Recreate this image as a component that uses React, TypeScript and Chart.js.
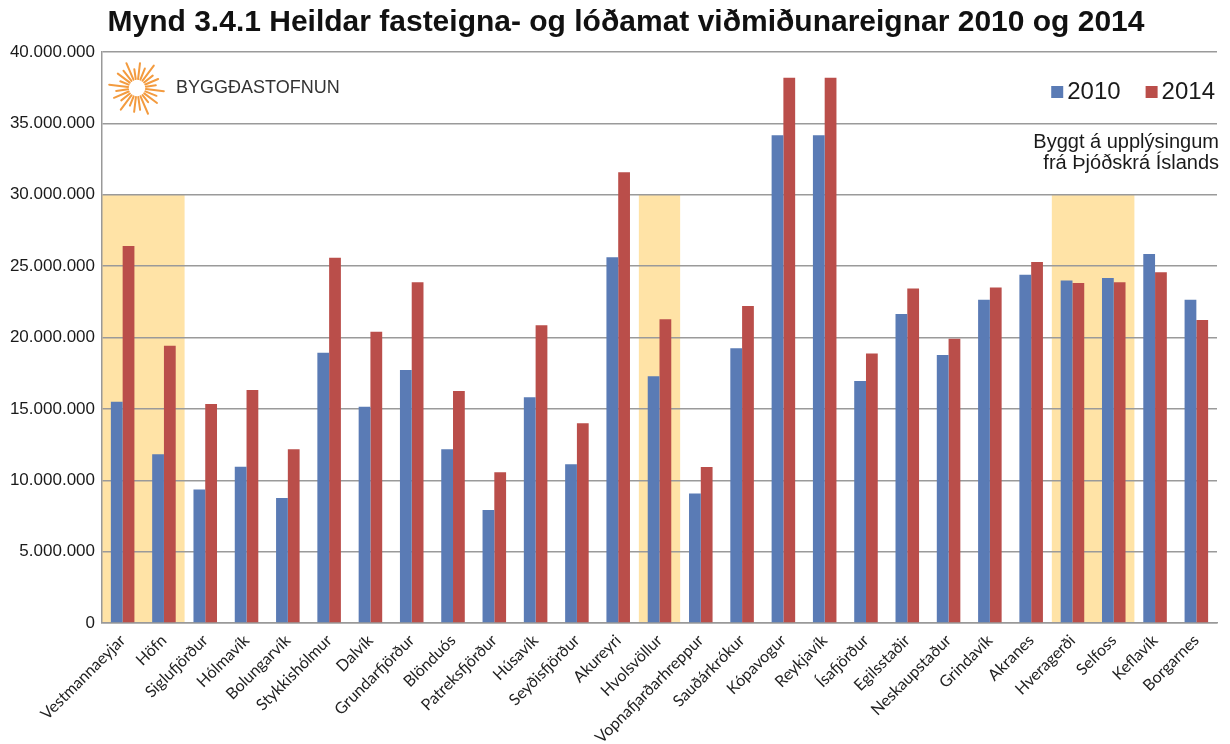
import React, { useEffect, useRef } from "react";
import { Chart, registerables } from "chart.js";

Chart.register(...registerables);

const categories = [
  "Vestmannaeyjar", "Höfn", "Siglufjörður", "Hólmavík", "Bolungarvík",
  "Stykkishólmur", "Dalvík", "Grundarfjörður", "Blönduós", "Patreksfjörður",
  "Húsavík", "Seyðisfjörður", "Akureyri", "Hvolsvöllur", "Vopnafjarðarhreppur",
  "Sauðárkrókur", "Kópavogur", "Reykjavík", "Ísafjörður", "Egilsstaðir",
  "Neskaupstaður", "Grindavík", "Akranes", "Hveragerði", "Selfoss",
  "Keflavík", "Borgarnes",
];

const values2010 = [
  15500000, 11820000, 9360000, 10950000, 8760000,
  18940000, 15150000, 17720000, 12170000, 7920000,
  15810000, 11120000, 25620000, 17280000, 9080000,
  19240000, 34170000, 34170000, 16950000, 21650000,
  18780000, 22650000, 24400000, 23990000, 24170000,
  25850000, 22650000,
];

const values2014 = [
  26410000, 19430000, 15340000, 16320000, 12170000,
  25590000, 20410000, 23870000, 16250000, 10560000,
  20850000, 13990000, 31580000, 21270000, 10920000,
  22210000, 38190000, 38190000, 18880000, 23440000,
  19920000, 23510000, 25290000, 23820000, 23870000,
  24570000, 21230000,
];

const seriesLabels = ["2010", "2014"];
const highlightedIndices = [0, 1, 13, 23, 24];
const highlightTop = 30000000;
const yMax = 40000000;
const yStep = 5000000;

const titleText = "Mynd 3.4.1 Heildar fasteigna- og lóðamat viðmiðunareignar 2010 og 2014";
const logoText = "BYGGÐASTOFNUN";
const sourceLines = ["Byggt á upplýsingum", "frá Þjóðskrá Íslands"];

const COLOR_2010 = "#5A7BB5";
const COLOR_2014 = "#BA4E4A";
const BAND_COLOR = "#FFE3A6";
const ARIAL = "'Liberation Sans', Arial, sans-serif";

function fmt(n: number): string {
  return String(n).replace(/\B(?=(\d{3})+(?!\d))/g, ".");
}

function groupRuns(idx: number[]): [number, number][] {
  const sorted = [...idx].sort((a, b) => a - b);
  const runs: [number, number][] = [];
  for (const i of sorted) {
    const last = runs[runs.length - 1];
    if (last && last[1] === i - 1) last[1] = i;
    else runs.push([i, i]);
  }
  return runs;
}

const titleShiftPlugin = {
  id: "titleShift",
  afterLayout(chart: any) {
    const t = chart.titleBlock;
    if (t) {
      t.left = 22;
      t.right = chart.width;
    }
  },
};

const bandPlugin = {
  id: "bands",
  beforeDraw(chart: any) {
    const { ctx, scales } = chart;
    const x = scales.x;
    const y = scales.y;
    const half = (x.getPixelForValue(1) - x.getPixelForValue(0)) / 2;
    ctx.save();
    ctx.fillStyle = BAND_COLOR;
    const top = y.getPixelForValue(highlightTop);
    const bottom = y.getPixelForValue(0);
    groupRuns(highlightedIndices).forEach(([a, b]) => {
      const x0 = x.getPixelForValue(a) - half;
      const x1 = x.getPixelForValue(b) + half;
      ctx.fillRect(x0, top, x1 - x0, bottom - top);
    });
    ctx.restore();
  },
};

const rayLengths = [27, 21, 25, 18, 28, 22, 24, 19, 27, 20, 25, 21, 28, 18, 24, 22, 27, 19, 25, 21, 28, 20, 23, 19];

const decorPlugin = {
  id: "decor",
  afterDraw(chart: any) {
    const { ctx, chartArea } = chart;
    ctx.save();
    // logo sunburst
    const cx = chartArea.left + 35;
    const cy = chartArea.top + 36;
    ctx.strokeStyle = "#F39B3F";
    ctx.lineWidth = 2;
    ctx.lineCap = "round";
    const rays = rayLengths.length;
    for (let k = 0; k < rays; k++) {
      const a = (k / rays) * Math.PI * 2 + 0.12;
      const outer = rayLengths[k];
      const inner = 9;
      ctx.beginPath();
      ctx.moveTo(cx + Math.cos(a) * inner, cy + Math.sin(a) * inner);
      ctx.lineTo(cx + Math.cos(a) * outer, cy + Math.sin(a) * outer);
      ctx.stroke();
    }
    ctx.fillStyle = "#333";
    ctx.font = `18px ${ARIAL}`;
    ctx.textAlign = "left";
    ctx.textBaseline = "middle";
    ctx.fillText(logoText, chartArea.left + 74, chartArea.top + 36);

    // legend
    const right = chartArea.right - 2;
    const ly = chartArea.top + 40;
    ctx.font = `24px ${ARIAL}`;
    ctx.textBaseline = "middle";
    let xr = right;
    const items = chart.data.datasets.map((d: any) => ({ label: d.label, color: d.backgroundColor }));
    for (let i = items.length - 1; i >= 0; i--) {
      const w = ctx.measureText(items[i].label).width;
      const tx = xr - w;
      ctx.fillStyle = "#1a1a1a";
      ctx.fillText(items[i].label, tx, ly);
      ctx.fillStyle = items[i].color;
      ctx.fillRect(tx - 16, ly - 6, 12, 12);
      xr = tx - 16 - 25;
    }

    // source note
    ctx.font = `20px ${ARIAL}`;
    ctx.fillStyle = "#1a1a1a";
    ctx.textAlign = "right";
    ctx.fillText(sourceLines[0], chartArea.right + 2, chartArea.top + 90);
    ctx.fillText(sourceLines[1], chartArea.right + 2, chartArea.top + 111);
    ctx.restore();
  },
};

export default function App() {
  const ref = useRef<HTMLCanvasElement | null>(null);
  useEffect(() => {
    if (!ref.current) return;
    const chart = new Chart(ref.current, {
      type: "bar",
      data: {
        labels: categories,
        datasets: [
          {
            label: seriesLabels[0],
            data: values2010,
            backgroundColor: COLOR_2010,
            categoryPercentage: 0.57,
            barPercentage: 1,
          },
          {
            label: seriesLabels[1],
            data: values2014,
            backgroundColor: COLOR_2014,
            categoryPercentage: 0.57,
            barPercentage: 1,
          },
        ],
      },
      options: {
        responsive: false,
        animation: false,
        layout: { padding: { left: 0, right: 13, top: 0, bottom: 0 } },
        plugins: {
          legend: { display: false },
          tooltip: { enabled: false },
          title: {
            display: true,
            text: titleText,
            color: "#111",
            font: { family: ARIAL, size: 30, weight: "bold", lineHeight: 1.2 },
            padding: { top: 5, bottom: 11 },
          },
        },
        scales: {
          x: {
            grid: { display: false, drawTicks: false },
            border: { display: true, color: "#999", width: 1.5 },
            ticks: {
              autoSkip: false,
              minRotation: 45,
              maxRotation: 45,
              color: "#222",
              padding: 8,
              font: { family: "Lato, 'Open Sans', sans-serif", size: 16 },
            },
            afterFit: (scale: any) => {
              scale.height = 121;
            },
          },
          y: {
            min: 0,
            max: yMax,
            grid: { color: "#9a9a9a", lineWidth: 1.5, drawTicks: false },
            border: { display: true, color: "#999", width: 1.5 },
            ticks: {
              stepSize: yStep,
              color: "#1a1a1a",
              padding: 7,
              font: { family: ARIAL, size: 17 },
              callback: (v: any) => fmt(Number(v)),
            },
            afterFit: (scale: any) => {
              scale.width = 102;
            },
          },
        },
      },
      plugins: [titleShiftPlugin, bandPlugin, decorPlugin],
    });
    return () => chart.destroy();
  }, []);
  return (
    <div style={{ position: "fixed", left: 0, top: 0, width: 1230, height: 744, background: "#fff" }}>
      <canvas ref={ref} width={1230} height={744} />
    </div>
  );
}
